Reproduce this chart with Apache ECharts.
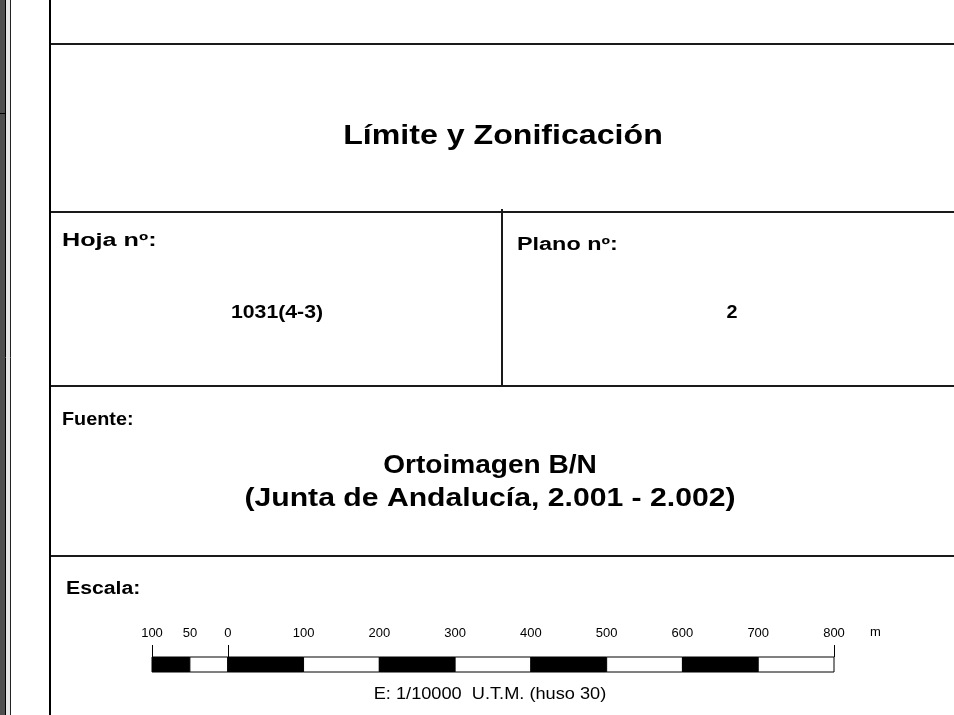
<!DOCTYPE html>
<html>
<head>
<meta charset="utf-8">
<script src="https://cdn.jsdelivr.net/npm/echarts@6/dist/echarts.min.js"></script>
<style>
html,body{margin:0;padding:0;background:#fff;}
#chart{width:954px;height:715px;}
</style>
</head>
<body>
<div id="chart"></div>
<script>
// Scale bar data (metres)
const segStart = [-100, -50, 0, 100, 200, 300, 400, 500, 600, 700];
const segEnd   = [-50, 0, 100, 200, 300, 400, 500, 600, 700, 800];
const segFill  = ['#000', '#fff', '#000', '#fff', '#000', '#fff', '#000', '#fff', '#000', '#fff'];
const labelValues = [-100, -50, 0, 100, 200, 300, 400, 500, 600, 700, 800];
const tickValues = [-100, 0, 800];
const unitLabel = 'm';

// Title block texts
const titleText = 'Límite y Zonificación';
const hojaLabel = 'Hoja nº:';
const hojaValue = '1031(4-3)';
const planoLabel = 'Plano nº:';
const planoValue = '2';
const fuenteLabel = 'Fuente:';
const fuenteLine1 = 'Ortoimagen B/N';
const fuenteLine2 = '(Junta de Andalucía, 2.001 - 2.002)';
const escalaLabel = 'Escala:';
const scaleCaption = 'E: 1/10000  U.T.M. (huso 30)';

const FONT = '"Liberation Sans", Arial, sans-serif';
const chart = echarts.init(document.getElementById('chart'));

function txt(x, y, s, size, bold, align, sx) {
  return {
    type: 'text', x: x, y: y, scaleX: sx || 1, silent: true,
    style: {
      text: s, fontFamily: FONT, fontSize: size, fontWeight: bold ? 'bold' : 'normal',
      fill: '#000', align: align || 'left', verticalAlign: 'middle'
    }
  };
}
function hline(x1, x2, y, w, c) {
  return { type: 'line', silent: true, shape: { x1: x1, y1: y, x2: x2, y2: y }, style: { stroke: c || '#111', lineWidth: w || 2 } };
}
function vline(x, y1, y2, w, c) {
  return { type: 'line', silent: true, shape: { x1: x, y1: y1, x2: x, y2: y2 }, style: { stroke: c || '#111', lineWidth: w || 2 } };
}

const graphics = [
  // left strip
  { type: 'rect', silent: true, shape: { x: 0, y: 0, width: 5, height: 715 }, style: { fill: '#4e4e4e' } },
  vline(5.5, 0, 715, 1, '#000'),
  { type: 'rect', silent: true, shape: { x: 6, y: 0, width: 4, height: 715 }, style: { fill: '#e4e4e4' } },
  vline(10.5, 0, 715, 1, '#222'),
  hline(0, 5, 113.5, 1, '#000'),
  // frame
  vline(50, 0, 715, 2, '#000'),
  hline(51, 954, 44, 2, '#1a1a1a'),
  hline(51, 954, 212, 2, '#1a1a1a'),
  vline(502, 209, 386, 2, '#1a1a1a'),
  hline(51, 954, 386, 2, '#1a1a1a'),
  hline(51, 954, 556, 2, '#1a1a1a'),
  // texts
  txt(503, 137, titleText, 27, true, 'center', 1.19),
  txt(62, 241, hojaLabel, 18, true, 'left', 1.4),
  txt(517, 245, planoLabel, 18, true, 'left', 1.3),
  txt(277, 313, hojaValue, 18, true, 'center', 1.18),
  txt(732, 313, planoValue, 18, true, 'center', 1.1),
  txt(62, 420, fuenteLabel, 18, true, 'left', 1.1),
  txt(490, 466, fuenteLine1, 26, true, 'center', 1.08),
  txt(490, 499, fuenteLine2, 26, true, 'center', 1.16),
  txt(66, 589, escalaLabel, 18, true, 'left', 1.18),
  txt(490, 694, scaleCaption, 17, false, 'center', 1.07),
  txt(870, 632, unitLabel, 13, false)
];

const segData = segStart.map((s, i) => [s, segEnd[i], i]);

chart.setOption({
  animation: false,
  backgroundColor: '#fff',
  grid: { left: 152, right: 120, top: 657, height: 15, containLabel: false },
  xAxis: {
    type: 'value', min: -100, max: 800, position: 'top',
    axisLine: { show: false },
    splitLine: { show: false },
    axisTick: { show: false },
    axisLabel: {
      show: true, customValues: labelValues, margin: 17,
      formatter: v => String(Math.abs(v)),
      fontFamily: FONT, fontSize: 13, color: '#000'
    }
  },
  yAxis: { type: 'value', min: 0, max: 1, show: false },
  series: [{
    type: 'custom',
    data: segData,
    encode: { x: [0, 1] },
    renderItem: function (params, api) {
      const p0 = api.coord([api.value(0), 0]);
      const p1 = api.coord([api.value(1), 1]);
      const idx = api.value(2);
      return {
        type: 'rect',
        shape: { x: p0[0], y: p1[1], width: p1[0] - p0[0], height: p0[1] - p1[1] },
        style: { fill: segFill[idx], stroke: '#000', lineWidth: 1 }
      };
    }
  }, {
    type: 'custom',
    data: tickValues.map(v => [v]),
    encode: { x: 0 },
    renderItem: function (params, api) {
      const p = api.coord([api.value(0), 1]);
      const x = Math.round(p[0]) + 0.5;
      return {
        type: 'line',
        shape: { x1: x, y1: p[1], x2: x, y2: p[1] - 12 },
        style: { stroke: '#000', lineWidth: 1 }
      };
    }
  }],
  graphic: graphics
});
</script>
</body>
</html>
